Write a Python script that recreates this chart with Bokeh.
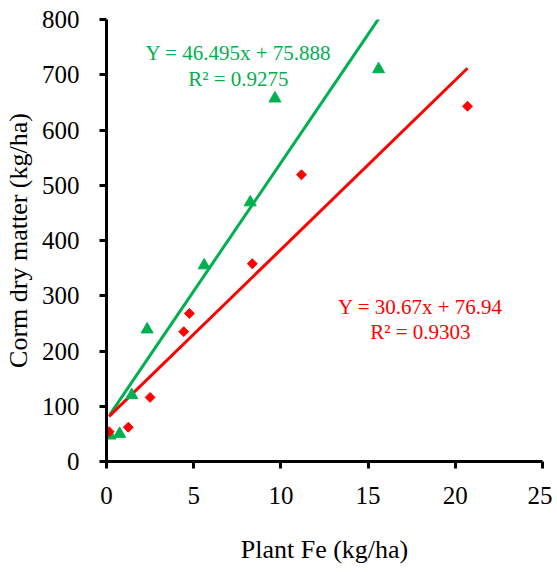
import numpy as np
from bokeh.plotting import figure
from bokeh.models import Range1d, FixedTicker
from bokeh.core.properties import value
from bokeh.embed import file_html
from bokeh.resources import INLINE

# Data
green_x = [0.2, 0.75, 1.45, 2.33, 5.6, 8.24, 9.66, 15.6]
green_y = [47, 50, 120, 239, 355, 469, 657, 710]
red_x = [0.15, 1.25, 2.5, 4.43, 4.75, 8.36, 11.18, 20.7]
red_y = [54, 62, 116, 235, 268, 358, 519, 643]

green_slope, green_icpt = 46.495, 75.888
red_slope, red_icpt = 30.67, 76.94

green_eq = ["Y = 46.495x + 75.888", "R² = 0.9275"]
red_eq = ["Y = 30.67x + 76.94", "R² = 0.9303"]

x_ticks = [0, 5, 10, 15, 20, 25]
y_ticks = [0, 100, 200, 300, 400, 500, 600, 700, 800]

GREEN = "#00B050"
RED = "#FF0000"
FONT = "Liberation Serif"

p = figure(width=552, height=567, output_backend="svg", toolbar_location=None,
           x_range=Range1d(0, 25), y_range=Range1d(0, 800),
           min_border_left=103, min_border_right=10, min_border_top=19, min_border_bottom=106)
p.outline_line_color = None
p.grid.grid_line_color = None
p.background_fill_color = "white"

for ax in (p.xaxis[0], p.yaxis[0]):
    ax.axis_line_width = 3
    ax.axis_line_color = "black"
    ax.major_tick_line_width = 3
    ax.major_tick_line_color = "black"
    ax.major_tick_in = 0
    ax.major_tick_out = 7
    ax.minor_tick_line_color = None
    ax.major_label_text_font = FONT
    ax.major_label_text_font_size = "25px"
    ax.major_label_text_color = "black"
    ax.axis_label_text_font = FONT
    ax.axis_label_text_font_size = "26px"
    ax.axis_label_text_font_style = "normal"
    ax.axis_label_text_color = "black"

p.xaxis.ticker = FixedTicker(ticks=x_ticks)
p.yaxis.ticker = FixedTicker(ticks=y_ticks)
p.xaxis.axis_label = "Plant Fe (kg/ha)"
p.yaxis.axis_label = "Corm dry matter (kg/ha)"
p.xaxis.major_label_standoff = 18
p.yaxis.major_label_standoff = 20
p.xaxis.axis_label_standoff = 28
p.yaxis.axis_label_standoff = 6

# Trend lines from regression equations over data x range
gx = [min(green_x), max(green_x)]
rx = [min(red_x), max(red_x)]
p.line(gx, [green_slope * v + green_icpt for v in gx], line_color=GREEN, line_width=3)
p.line(rx, [red_slope * v + red_icpt for v in rx], line_color=RED, line_width=3)

p.scatter(green_x, green_y, marker="triangle", size=12, fill_color=GREEN, line_color=GREEN)
p.scatter(red_x, red_y, marker="square", angle=np.pi / 4, size=7, fill_color=RED, line_color=RED)

p.text(x=[7.56, 7.56], y=[740, 693], text=green_eq, text_color=GREEN,
       text_font=value(FONT), text_font_size="21px", text_align="center", text_baseline="middle")
p.text(x=[18.0, 18.0], y=[280, 235], text=red_eq, text_color=RED,
       text_font=value(FONT), text_font_size="21px", text_align="center", text_baseline="middle")

open("out.html", "w").write(file_html(p, INLINE))
